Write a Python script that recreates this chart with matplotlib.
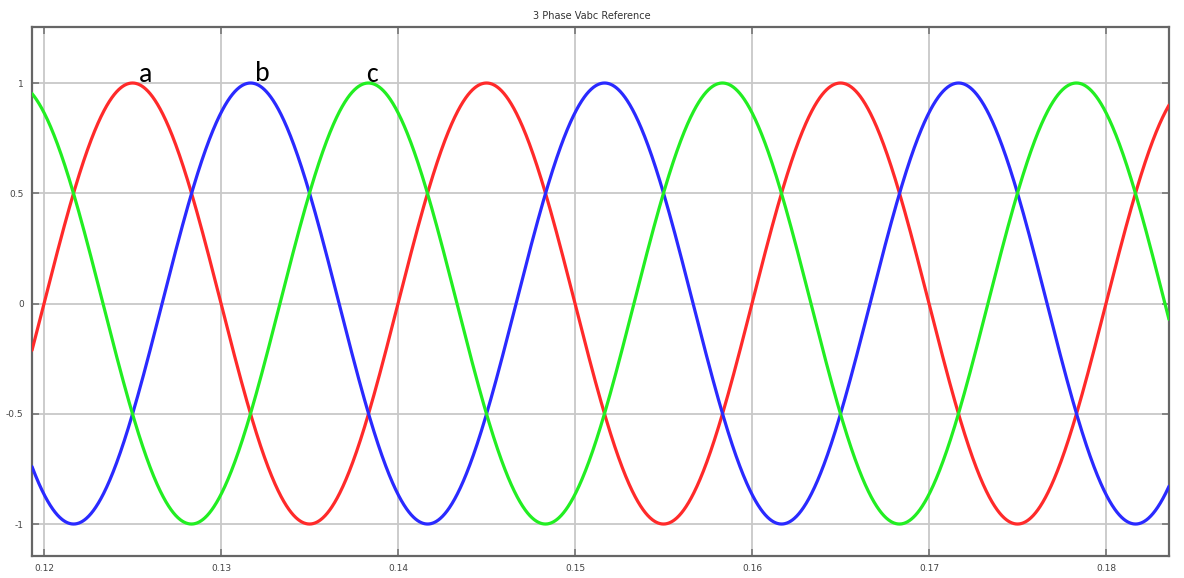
import numpy as np
import matplotlib
matplotlib.use("Agg")
import matplotlib.pyplot as plt

# ---- data ----
title = "3 Phase Vabc Reference"
phase_names = ["a", "b", "c"]
phase_colors = ["#ff2a2a", "#2a2aff", "#22ee22"]
amplitude = [1.0, 1.0, 1.0]
frequency_hz = 50.0
peak_time = [0.1250, 0.13167, 0.13833]   # time of a positive peak of each phase
label_x = [0.12571, 0.13231, 0.13853]
label_y = [1.004, 1.010, 1.004]
x_limits = [0.11932, 0.18356]
y_limits = [-1.145, 1.254]
x_ticks = [0.12, 0.13, 0.14, 0.15, 0.16, 0.17, 0.18]
x_tick_labels = ["0.12", "0.13", "0.14", "0.15", "0.16", "0.17", "0.18"]
y_ticks = [-1, -0.5, 0, 0.5, 1]
y_tick_labels = ["-1", "-0.5", "0", "0.5", "1"]

fig = plt.figure(figsize=(11.84, 5.78), dpi=100)
ax = fig.add_axes([32/1184, 1-556/578, (1169-32)/1184, (556-27)/578])

t = np.linspace(x_limits[0], x_limits[1], 3000)
for name, col, amp, tp in zip(phase_names, phase_colors, amplitude, peak_time):
    ax.plot(t, amp*np.cos(2*np.pi*frequency_hz*(t - tp)), color=col, lw=2.3,
            solid_capstyle="round", zorder=3)

for name, lx, ly in zip(phase_names, label_x, label_y):
    ax.text(lx, ly, name, fontsize=20, color="black", ha="center", va="baseline",
            family=["Carlito", "Open Sans", "DejaVu Sans"], zorder=4)

ax.set_xlim(x_limits)
ax.set_ylim(y_limits)
ax.set_xticks(x_ticks)
ax.set_xticklabels(x_tick_labels)
ax.set_yticks(y_ticks)
ax.set_yticklabels(y_tick_labels)
ax.grid(True, color="#c8c8c8", lw=1.3, zorder=0)
ax.tick_params(direction="in", length=5, width=1.2, color="#777777",
               labelsize=6.5, labelcolor="#444444", top=True, right=True, pad=6)
for s in ax.spines.values():
    s.set_color("#666666")
    s.set_linewidth(1.6)

fig.text(0.5, 1-16/578, title, ha="center", va="center", fontsize=7, color="#333333")
fig.savefig("out.png", dpi=100, facecolor="white")
